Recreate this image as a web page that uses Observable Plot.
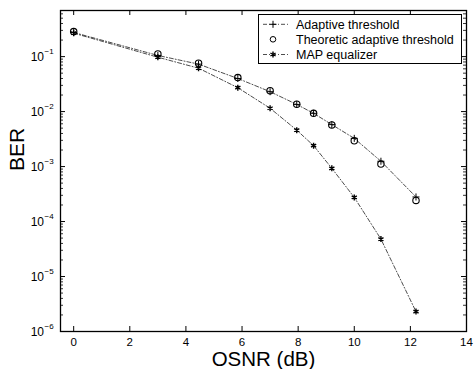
<!DOCTYPE html>
<html><head><meta charset="utf-8">
<script src="https://cdn.jsdelivr.net/npm/d3@7"></script>
<script src="https://cdn.jsdelivr.net/npm/@observablehq/plot@0.6"></script>
<style>
body{margin:0;background:#fff}
#chart{width:474px;height:369px}
</style>
</head><body><div id="chart"></div>
<script>
const osnr = [0, 3, 4.45, 5.85, 7, 7.95, 8.55, 9.2, 10, 10.95, 12.2];
const berAdaptive = [0.275, 0.105, 0.073, 0.040, 0.023, 0.0135, 0.0093, 0.0058, 0.00326, 0.00125, 0.00028];
const berTheoretic = [0.285, 0.112, 0.076, 0.0415, 0.024, 0.0136, 0.0093, 0.0057, 0.00295, 0.00111, 0.000242];
const berMap = [0.267, 0.0975, 0.0616, 0.0272, 0.0115, 0.0046, 0.0024, 0.00093, 0.000275, 0.000048, 0.0000023];
const xTicks = [0, 2, 4, 6, 8, 10, 12, 14];
const yDecades = [1e-6, 1e-5, 1e-4, 1e-3, 1e-2, 1e-1];
const yExponents = ["\u22126", "\u22125", "\u22124", "\u22123", "\u22122", "\u22121"];
const legendLabels = ["Adaptive threshold", "Theoretic adaptive threshold", "MAP equalizer"];
const xLabel = "OSNR (dB)";
const yLabel = "BER";

const rows = osnr.map((x, i) => ({x, adaptive: berAdaptive[i], theoretic: berTheoretic[i], map: berMap[i]}));
const yMinor = [];
for (let k = -6; k <= -1; k++) for (let m = 2; m <= 9; m++) { const v = m * Math.pow(10, k); if (v <= 0.69) yMinor.push(v); }

const W = 474, H = 369, mL = 60, mR = 8, mT = 10, mB = 38;
const fw = W - mL - mR, fh = H - mT - mB;
const font = "'Liberation Sans', Arial, Helvetica, sans-serif";
const dash = "4,2,1,2";

const svg = Plot.plot({
  width: W, height: H,
  marginLeft: mL, marginRight: mR, marginTop: mT, marginBottom: mB,
  style: {fontFamily: font, color: "black", background: "white"},
  x: {domain: [-0.47, 14], axis: null},
  y: {type: "log", domain: [1e-6, 0.69], axis: null},
  marks: [
    Plot.tickX(xTicks, {x: d => d, insetTop: fh - 5, stroke: "black", strokeWidth: 1}),
    Plot.tickX(xTicks, {x: d => d, insetBottom: fh - 5, stroke: "black", strokeWidth: 1}),
    Plot.tickY(yDecades, {y: d => d, insetRight: fw - 5, stroke: "black", strokeWidth: 1}),
    Plot.tickY(yDecades, {y: d => d, insetLeft: fw - 5, stroke: "black", strokeWidth: 1}),
    Plot.tickY(yMinor, {y: d => d, insetRight: fw - 3, stroke: "black", strokeWidth: 0.8}),
    Plot.tickY(yMinor, {y: d => d, insetLeft: fw - 3, stroke: "black", strokeWidth: 0.8}),
    Plot.frame({stroke: "black", strokeWidth: 1.3}),
    Plot.axisX({ticks: xTicks, tickSize: 0, tickPadding: 6, fontSize: 11.5, label: null}),
    Plot.axisY({ticks: yDecades, tickFormat: () => "10", tickSize: 0, tickPadding: 16.5, fontSize: 12, dy: 1, label: null}),
    Plot.text(yDecades, {y: d => d, text: (d, i) => yExponents[i], frameAnchor: "left", dx: -16, dy: -5, textAnchor: "start", fontSize: 8}),
    Plot.text([xLabel], {frameAnchor: "bottom", dy: 34.5, fontSize: 20.5}),
    Plot.text([yLabel], {frameAnchor: "left", dx: -43, rotate: -90, fontSize: 21}),
    Plot.line(rows, {x: "x", y: "adaptive", stroke: "black", strokeWidth: 0.7, strokeDasharray: dash}),
    Plot.line(rows, {x: "x", y: "map", stroke: "black", strokeWidth: 0.7, strokeDasharray: dash}),
    Plot.dot(rows, {x: "x", y: "theoretic", symbol: "circle", r: 3.2, stroke: "black", fill: "none", strokeWidth: 1.1}),
    Plot.dot(rows, {x: "x", y: "adaptive", symbol: "plus", r: 2.4, stroke: "black", strokeWidth: 1}),
    Plot.dot(rows, {x: "x", y: "map", symbol: "asterisk", r: 2.8, stroke: "black", strokeWidth: 1.4})
  ]
});
document.getElementById("chart").appendChild(svg);

// legend
const g = d3.select(svg).append("g").attr("font-family", font).attr("text-anchor", "start");
g.append("rect").attr("x", 258.5).attr("y", 14.5).attr("width", 203).attr("height", 49)
  .attr("fill", "white").attr("stroke", "black").attr("stroke-width", 1);
const rowY = [24.3, 39.3, 54.5];
const syms = [d3.symbolPlus, d3.symbolCircle, d3.symbolAsterisk];
const symSize = [Math.PI * 2.4 * 2.4, Math.PI * 2.8 * 2.8, Math.PI * 2.8 * 2.8];
legendLabels.forEach((lab, i) => {
  const y = rowY[i];
  if (i !== 1) {
    g.append("line").attr("x1", 263).attr("x2", 288).attr("y1", y).attr("y2", y)
      .attr("stroke", "black").attr("stroke-width", 0.7).attr("stroke-dasharray", dash);
  }
  g.append("path").attr("d", d3.symbol(syms[i], symSize[i])())
    .attr("transform", `translate(273,${y})`)
    .attr("fill", "none").attr("stroke", "black").attr("stroke-width", i === 2 ? 1.4 : 1);
  g.append("text").attr("x", 296).attr("y", y).attr("dy", "0.35em").attr("font-size", 12.5)
    .attr("text-anchor", "start").text(lab);
});
</script>
</body></html>
